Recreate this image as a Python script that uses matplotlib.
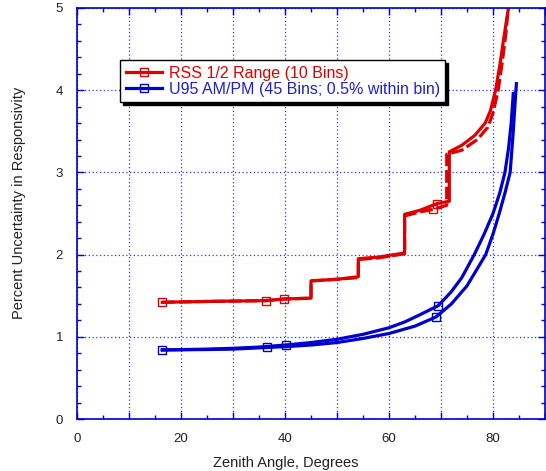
import numpy as np
import matplotlib
matplotlib.use("Agg")
import matplotlib.pyplot as plt
from matplotlib.ticker import MultipleLocator, FuncFormatter

plt.rcParams['font.family'] = ['Liberation Sans', 'DejaVu Sans']

# RSS 1/2 range, 10 bins (solid and dashed runs)
rss_a_x = [16.4, 25, 36.3, 39.8, 45.0, 45.0, 50, 54.1, 54.1, 58, 63.0, 63.0, 66, 69.2, 71.6,
           71.6, 74, 76.5, 78.5, 79.5, 80.5, 81.3, 82.0, 82.6, 83.1]
rss_a_y = [1.42, 1.43, 1.44, 1.46, 1.47, 1.68, 1.70, 1.73, 1.95, 1.97, 2.02, 2.49, 2.54, 2.62, 2.65,
           3.25, 3.33, 3.45, 3.60, 3.75, 4.00, 4.30, 4.60, 4.85, 5.05]
rss_b_x = [16.4, 25, 36.3, 39.8, 45.0, 45.0, 50, 54.1, 54.1, 58, 63.0, 63.0, 66, 68.5, 71.1,
           71.1, 74, 77, 79, 80, 81, 81.8, 82.5, 83.0]
rss_b_y = [1.42, 1.43, 1.44, 1.46, 1.47, 1.68, 1.70, 1.72, 1.94, 1.96, 2.01, 2.47, 2.52, 2.55, 2.60,
           3.22, 3.27, 3.40, 3.55, 3.72, 4.00, 4.35, 4.70, 5.05]

# U95 AM/PM, 45 bins
u95_am_x = [16.4, 25, 30, 35, 40.1, 45, 50, 55, 60, 63, 66, 69.5, 72, 74, 76.4, 78.3, 80.0,
            81.3, 82.3, 83.0, 83.5, 83.9]
u95_am_y = [0.84, 0.85, 0.86, 0.875, 0.90, 0.93, 0.97, 1.03, 1.11, 1.18, 1.27, 1.38, 1.55, 1.72,
            2.00, 2.25, 2.50, 2.75, 3.00, 3.30, 3.60, 3.96]
u95_pm_x = [16.4, 25, 30, 36.5, 40, 45, 50, 55, 60, 65, 69.0, 72, 75, 78.6, 80.0, 81.2, 82.3,
            83.3, 83.9, 84.2, 84.5]
u95_pm_y = [0.84, 0.845, 0.85, 0.87, 0.88, 0.90, 0.93, 0.98, 1.04, 1.13, 1.24, 1.40, 1.62,
            2.00, 2.25, 2.50, 2.75, 3.00, 3.50, 3.80, 4.08]

red = '#dd0000'
blue = '#0000cc'

fig = plt.figure(figsize=(5.46, 4.71), dpi=100)
ax = fig.add_axes([77/546, 52/471, 468/546, 411/471])

mk = dict(marker='s', markersize=6, markerfacecolor='none', markeredgewidth=1.0)
ax.plot(rss_a_x, rss_a_y, color=red, lw=2.3, markevery=[0, 2, 13], markeredgecolor=red,
        label='RSS 1/2 Range (10 Bins)', **mk)
ax.plot(rss_b_x, rss_b_y, color=red, lw=2.3, ls=(0, (4, 1.2)), markevery=[3, 13],
        markeredgecolor=red, label='_nolegend_', **mk)
ax.plot(u95_am_x, u95_am_y, color=blue, lw=2.3, markevery=[0, 4, 11], markeredgecolor=blue,
        label='U95 AM/PM (45 Bins; 0.5% within bin)', **mk)
ax.plot(u95_pm_x, u95_pm_y, color=blue, lw=2.3, markevery=[3, 10], markeredgecolor=blue,
        label='_nolegend_', **mk)

ax.set_xlim(0, 90)
ax.set_ylim(0, 5)
ax.xaxis.set_major_locator(MultipleLocator(10))
ax.xaxis.set_minor_locator(MultipleLocator(5))
ax.xaxis.set_major_formatter(FuncFormatter(lambda v, p: '%d' % v if round(v) % 20 == 0 else ''))
ax.yaxis.set_major_locator(MultipleLocator(1))
ax.yaxis.set_minor_locator(MultipleLocator(0.2))

ax.tick_params(which='both', direction='in', top=True, right=True, color=blue,
               labelcolor='#222222', labelsize=9.5, width=1)
ax.tick_params(which='major', length=5, pad=10)
ax.tick_params(which='minor', length=3)
for s in ax.spines.values():
    s.set_color(blue)
    s.set_linewidth(1.2)

ax.grid(True, which='major', color='#3030ff', ls=(0, (1, 2)), lw=0.9)

ax.set_xlabel('Zenith Angle, Degrees', fontsize=10.5, color='#222222')
ax.xaxis.set_label_coords(0.445, -0.09)
ax.set_ylabel('Percent Uncertainty in Responsivity', fontsize=10.5, color='#222222')
ax.yaxis.set_label_coords(-0.11, 0.525)

leg = ax.legend(loc='upper left', bbox_to_anchor=(0.092, 0.873), fontsize=11.5,
                frameon=True, fancybox=False, shadow={'color': 'black', 'alpha': 1},
                handlelength=2.3, borderpad=0.35, labelspacing=0.05, handletextpad=0.4,
                borderaxespad=0.0)
leg.get_frame().set_edgecolor('black')
leg.get_frame().set_linewidth(1.0)
for t, c in zip(leg.get_texts(), [red, '#2020cc']):
    t.set_color(c)

fig.savefig('out.png', dpi=100)
